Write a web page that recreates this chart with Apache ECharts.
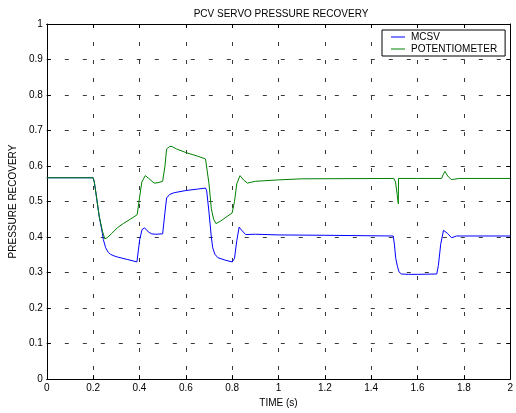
<!DOCTYPE html>
<html>
<head>
<meta charset="utf-8">
<script src="https://cdn.jsdelivr.net/npm/echarts@6/dist/echarts.min.js"></script>
<style>
  html, body { margin: 0; padding: 0; background: #fff; }
  #chart { width: 516px; height: 413px; }
</style>
</head>
<body>
<div id="chart"></div>
<script>
// Time axis ticks and pressure recovery ticks
const xTicks = [0, 0.2, 0.4, 0.6, 0.8, 1, 1.2, 1.4, 1.6, 1.8, 2];
const yTicks = [0, 0.1, 0.2, 0.3, 0.4, 0.5, 0.6, 0.7, 0.8, 0.9, 1];

// MCSV response
const mcsvTime = [0, 0.2, 0.205, 0.212, 0.226, 0.24, 0.244, 0.254, 0.265, 0.276, 0.29, 0.304, 0.347, 0.389,
  0.394, 0.401, 0.411, 0.422, 0.439, 0.453, 0.47, 0.5, 0.503, 0.51, 0.517, 0.53, 0.55, 0.6, 0.65, 0.685,
  0.69, 0.7, 0.71, 0.716, 0.725, 0.738, 0.77, 0.8, 0.81, 0.82, 0.83, 0.84, 0.858, 0.9, 1.0, 1.2, 1.495,
  1.5, 1.506, 1.513, 1.52, 1.53, 1.56, 1.6, 1.683, 1.69, 1.7, 1.712, 1.718, 1.73, 1.747, 1.768, 1.8, 2.0];
const mcsvValue = [0.567, 0.567, 0.555, 0.524, 0.459, 0.41, 0.393, 0.37, 0.357, 0.351, 0.347, 0.344, 0.337, 0.33,
  0.332, 0.393, 0.421, 0.426, 0.414, 0.409, 0.408, 0.409, 0.41, 0.47, 0.51, 0.52, 0.525, 0.531, 0.535, 0.538,
  0.53, 0.47, 0.40, 0.37, 0.352, 0.342, 0.335, 0.33, 0.34, 0.39, 0.428, 0.42, 0.407, 0.408, 0.406, 0.405, 0.403,
  0.38, 0.34, 0.318, 0.302, 0.296, 0.295, 0.295, 0.296, 0.32, 0.38, 0.419, 0.421, 0.41, 0.398, 0.403, 0.403, 0.403];

// Potentiometer response
const potTime = [0, 0.2, 0.205, 0.212, 0.226, 0.24, 0.25, 0.26, 0.28, 0.304, 0.33, 0.36, 0.39, 0.4, 0.41,
  0.425, 0.44, 0.463, 0.48, 0.5, 0.505, 0.51, 0.517, 0.53, 0.54, 0.56, 0.6, 0.65, 0.685, 0.69, 0.7, 0.71,
  0.72, 0.73, 0.75, 0.8, 0.81, 0.82, 0.834, 0.85, 0.866, 0.9, 1.0, 1.1, 1.498, 1.505, 1.512, 1.517, 1.518,
  1.6, 1.704, 1.71, 1.718, 1.73, 1.745, 1.76, 1.78, 2.0];
const potValue = [0.567, 0.567, 0.555, 0.524, 0.459, 0.417, 0.395, 0.398, 0.41, 0.426, 0.438, 0.45, 0.463, 0.51, 0.555,
  0.573, 0.565, 0.552, 0.553, 0.557, 0.56, 0.6, 0.648, 0.655, 0.655, 0.648, 0.638, 0.628, 0.62, 0.615, 0.55, 0.48,
  0.45, 0.438, 0.445, 0.468, 0.5, 0.55, 0.573, 0.56, 0.552, 0.557, 0.561, 0.564, 0.565, 0.555, 0.52, 0.494, 0.565,
  0.565, 0.565, 0.575, 0.585, 0.572, 0.562, 0.563, 0.565, 0.565];

const zip = (t, v) => t.map((x, i) => [x, v[i]]);

const FONT = 'Liberation Sans, Arial, Helvetica, sans-serif';
const gridDash = { color: '#3a3a3a', width: 1, type: [4, 14] };
// thin horizontal bar used as the legend sample line
const LINE_ICON = 'path://M0,0 L14,0 L14,1 L0,1 Z';

const chart = echarts.init(document.getElementById('chart'), null, { renderer: 'canvas' });

const baseX = {
  type: 'value', min: 0, max: 2, interval: 0.2,
  axisLine: { show: true, onZero: false, lineStyle: { color: '#000', width: 1 } },
  axisTick: { show: true, inside: true, length: 4, lineStyle: { color: '#000' } },
};
const baseY = {
  type: 'value', min: 0, max: 1, interval: 0.1,
  axisLine: { show: true, onZero: false, lineStyle: { color: '#000', width: 1 } },
  axisTick: { show: true, inside: true, length: 4, lineStyle: { color: '#000' } },
};

chart.setOption({
  animation: false,
  backgroundColor: '#fff',
  title: {
    text: 'PCV SERVO PRESSURE RECOVERY',
    left: 276, top: 4, textAlign: 'center',
    textStyle: { fontFamily: FONT, fontSize: 10, fontWeight: 'normal', color: '#000' }
  },
  legend: {
    left: 382, top: 30,
    orient: 'vertical',
    backgroundColor: '#fff',
    borderColor: '#000', borderWidth: 1,
    padding: [2, 8, 2, 9],
    itemWidth: 14, itemHeight: 10, itemGap: 2,
    symbolKeepAspect: true,
    textStyle: { fontFamily: FONT, fontSize: 10, color: '#000', padding: [0, 0, 0, 1] },
    data: [
      { name: 'MCSV', icon: LINE_ICON, itemStyle: { color: '#0000ff' } },
      { name: 'POTENTIOMETER', icon: LINE_ICON, itemStyle: { color: '#008000' } }
    ]
  },
  grid: { left: 42, right: 5, top: 24, bottom: 33, containLabel: false },
  xAxis: [
    Object.assign({}, baseX, {
      position: 'bottom',
      name: 'TIME (s)', nameLocation: 'middle', nameGap: 17,
      nameTextStyle: { fontFamily: FONT, fontSize: 10, color: '#000' },
      axisLabel: {
        fontFamily: FONT, fontSize: 10, color: '#000', margin: 4,
        formatter: v => xTicks.includes(+v.toFixed(1)) ? String(+v.toFixed(1)) : ''
      },
      splitLine: { show: true, lineStyle: gridDash }
    }),
    Object.assign({}, baseX, {
      position: 'top',
      axisLabel: { show: false },
      splitLine: { show: false }
    })
  ],
  yAxis: [
    Object.assign({}, baseY, {
      position: 'left',
      name: 'PRESSURE RECOVERY', nameLocation: 'middle', nameGap: 22, nameRotate: 90,
      nameTextStyle: { fontFamily: FONT, fontSize: 10, color: '#000' },
      axisLabel: {
        fontFamily: FONT, fontSize: 10, color: '#000', margin: 4,
        formatter: v => yTicks.includes(+v.toFixed(1)) ? String(+v.toFixed(1)) : ''
      },
      splitLine: { show: true, lineStyle: gridDash }
    }),
    Object.assign({}, baseY, {
      position: 'right',
      axisLabel: { show: false },
      splitLine: { show: false }
    })
  ],
  series: [
    {
      name: 'MCSV', type: 'line', xAxisIndex: 0, yAxisIndex: 0,
      data: zip(mcsvTime, mcsvValue),
      symbol: 'none', smooth: false,
      lineStyle: { color: '#0000ff', width: 1 }, itemStyle: { color: '#0000ff' }
    },
    {
      name: 'POTENTIOMETER', type: 'line', xAxisIndex: 0, yAxisIndex: 0,
      data: zip(potTime, potValue),
      symbol: 'none', smooth: false,
      lineStyle: { color: '#008000', width: 1 }, itemStyle: { color: '#008000' }
    }
  ]
});
</script>
</body>
</html>
